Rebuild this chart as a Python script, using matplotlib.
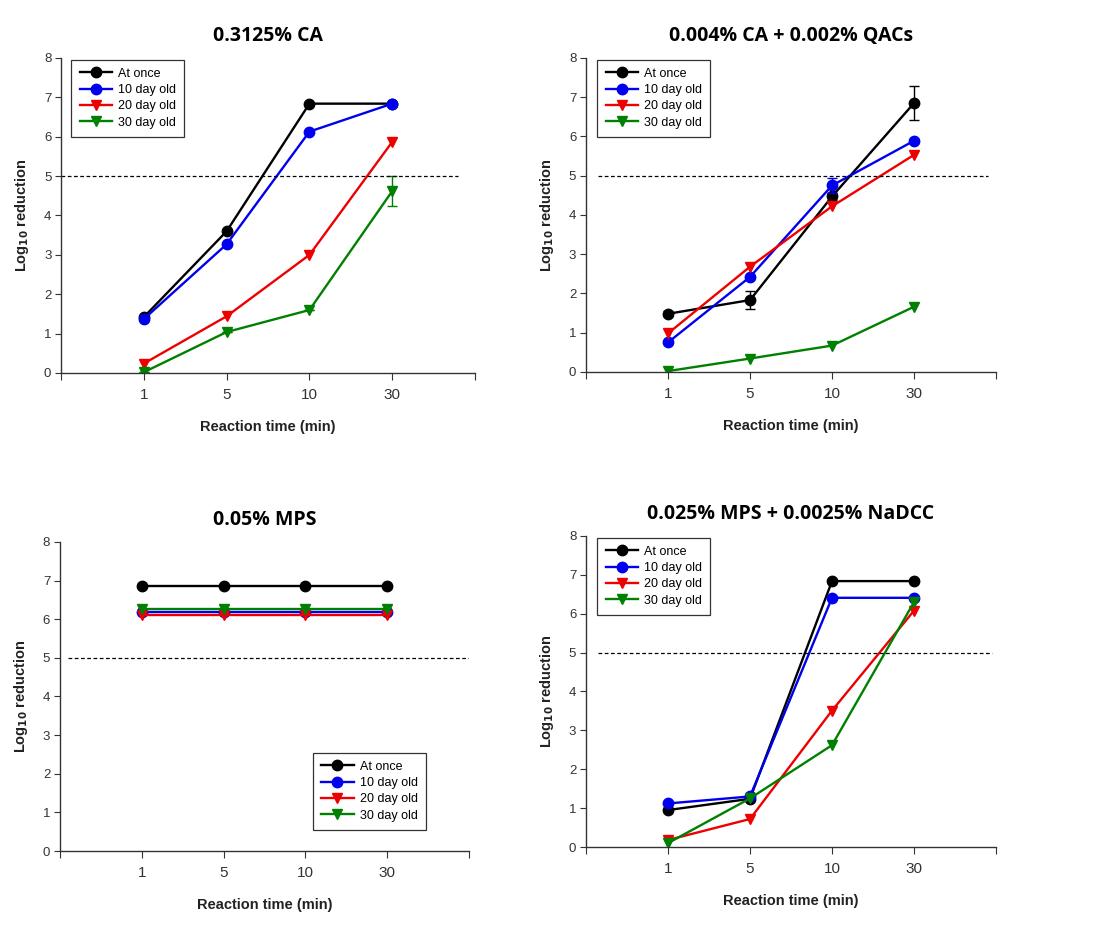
import matplotlib
matplotlib.use('Agg')
import matplotlib.pyplot as plt

plt.rcParams['font.family'] = ['Liberation Sans', 'DejaVu Sans']

times = ['1', '5', '10', '30']
series = ['At once', '10 day old', '20 day old', '30 day old']
colors = ['black', '#0000ee', '#ee0000', '#008000']
markers = ['o', 'o', 'v', 'v']

titles = ['0.3125% CA', '0.004% CA + 0.002% QACs',
          '0.05% MPS', '0.025% MPS + 0.0025% NaDCC']

# log10 reduction, one list per series, per panel
ca_once = [1.42, 3.6, 6.84, 6.84]
ca_10 = [1.37, 3.27, 6.13, 6.84]
ca_20 = [0.24, 1.44, 3.0, 5.87]
ca_30 = [0.02, 1.04, 1.6, 4.62]
ca_err_30 = [0, 0, 0, 0.38]

qac_once = [1.48, 1.83, 4.47, 6.85]
qac_10 = [0.75, 2.42, 4.75, 5.89]
qac_20 = [0.98, 2.68, 4.22, 5.53]
qac_30 = [0.02, 0.34, 0.67, 1.66]
qac_err_once = [0.06, 0.22, 0.1, 0.43]
qac_err_10 = [0.04, 0.05, 0.19, 0.04]

mps_once = [6.85, 6.85, 6.85, 6.85]
mps_10 = [6.19, 6.19, 6.19, 6.19]
mps_20 = [6.1, 6.1, 6.1, 6.1]
mps_30 = [6.27, 6.27, 6.27, 6.27]

nadcc_once = [0.95, 1.24, 6.84, 6.84]
nadcc_10 = [1.12, 1.3, 6.41, 6.41]
nadcc_20 = [0.18, 0.72, 3.51, 6.08]
nadcc_30 = [0.1, 1.25, 2.62, 6.3]

panels = [
    ([ca_once, ca_10, ca_20, ca_30], [None, None, None, ca_err_30]),
    ([qac_once, qac_10, qac_20, qac_30], [qac_err_once, qac_err_10, None, None]),
    ([mps_once, mps_10, mps_20, mps_30], [None, None, None, None]),
    ([nadcc_once, nadcc_10, nadcc_20, nadcc_30], [None, None, None, None]),
]

rects = [
    [0.0553, 0.5998, 0.375, 0.338],
    [0.5308, 0.6010, 0.3714, 0.3368],
    [0.0543, 0.0869, 0.3705, 0.3316],
    [0.5308, 0.0912, 0.3714, 0.3337],
]
legend_locs = [
    ('upper left', (0.025, 0.995)),
    ('upper left', (0.028, 0.995)),
    ('lower right', (0.895, 0.068)),
    ('upper left', (0.028, 0.995)),
]
dash_spans = [(0.0, 0.96), (0.03, 0.98), (0.02, 1.0), (0.03, 0.99)]

fig = plt.figure(figsize=(11.04, 9.32), dpi=100)

x = list(range(1, len(times) + 1))

for i, (values, errs) in enumerate(panels):
    ax = fig.add_axes(rects[i])
    for vals, err, name, c, m in zip(values, errs, series, colors, markers):
        if err is not None:
            ax.errorbar(x, vals, yerr=err, fmt='none', ecolor=c,
                        capsize=3.5, elinewidth=1, capthick=1)
        ax.plot(x, vals, color=c, marker=m, markersize=7.5, lw=1.7, label=name)
    ax.axhline(5, xmin=dash_spans[i][0], xmax=dash_spans[i][1],
               color='black', ls=(0, (3, 2)), lw=0.9)
    ax.set_xlim(0, 5)
    ax.set_ylim(0, 8)
    ax.set_xticks(range(0, 6))
    ax.set_xticklabels([''] + times + [''])
    ax.set_yticks(range(0, 9))
    ax.spines['top'].set_visible(False)
    ax.spines['right'].set_visible(False)
    for s in ['left', 'bottom']:
        ax.spines[s].set_linewidth(1.0)
        ax.spines[s].set_color('#333333')
    ax.tick_params(axis='y', direction='out', length=4, labelsize=9.5,
                   colors='#333333', labelcolor='#333333', pad=3)
    ax.tick_params(axis='x', direction='out', length=5, labelsize=11,
                   colors='#333333', labelcolor='#333333', pad=6)
    ax.set_xlabel('Reaction time (min)', fontsize=10.5, fontweight='bold',
                  labelpad=13, color='#222222')
    ax.set_ylabel('Log$_{\\mathbf{10}}$ reduction', fontsize=10.5,
                  fontweight='bold', labelpad=9, color='#222222')
    ax.set_title(titles[i], fontsize=14, fontweight='bold',
                 family=['Open Sans', 'DejaVu Sans'], pad=12)
    loc, anchor = legend_locs[i]
    leg = ax.legend(loc=loc, bbox_to_anchor=anchor, fontsize=9,
                    frameon=True, fancybox=False, edgecolor='black',
                    borderpad=0.65, labelspacing=0.35, handlelength=2.6,
                    handletextpad=0.5, borderaxespad=0)
    leg.get_frame().set_linewidth(0.9)

fig.savefig('out.png', dpi=100, facecolor='white')
